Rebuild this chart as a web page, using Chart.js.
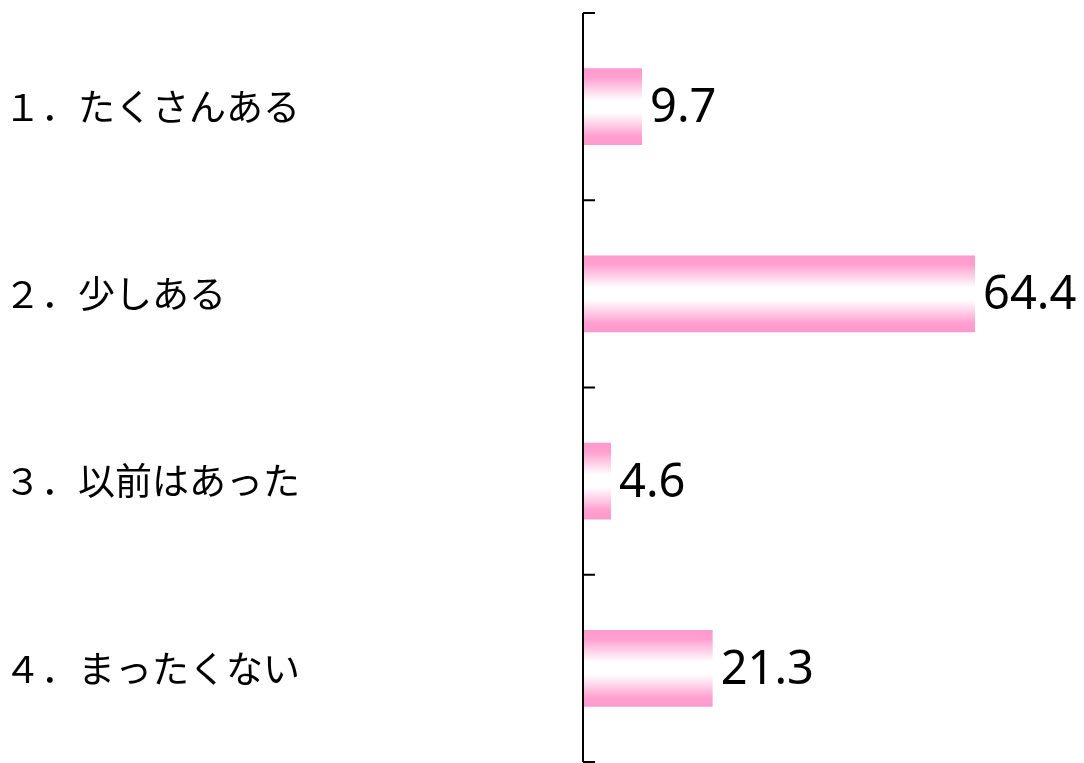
<!DOCTYPE html>
<html><head><meta charset="utf-8">
<script src="https://cdn.jsdelivr.net/npm/chart.js@4.4.1/dist/chart.umd.min.js"></script>
<style>html,body{margin:0;padding:0;background:#fff;overflow:hidden}#wrap{width:1084px;height:763px}</style>
</head><body><div id="wrap"><canvas id="c"></canvas></div>
<script>
const categories = ["１．たくさんある", "２．少しある", "３．以前はあった", "４．まったくない"];
const values = [9.7, 64.4, 4.6, 21.3];
const AXIS_X = 583;
const BAR_PCT = 0.41;

const gradientPlugin = {
  id: 'grad',
  beforeDatasetDraw(chart, args) {
    const ctx = chart.ctx;
    args.meta.data.forEach(el => {
      const p = el.getProps(['y', 'height'], true);
      if (!isFinite(p.y) || !isFinite(p.height)) return;
      const t = p.y - p.height / 2, b = p.y + p.height / 2;
      const g = ctx.createLinearGradient(0, t, 0, b);
      g.addColorStop(0, '#ff99cc');
      g.addColorStop(0.12, '#ffa0d0');
      g.addColorStop(0.42, '#ffffff');
      g.addColorStop(0.58, '#ffffff');
      g.addColorStop(0.88, '#ffa0d0');
      g.addColorStop(1, '#ff99cc');
      const o = {};
      for (const k in el.options) o[k] = el.options[k];
      o.backgroundColor = g;
      el.options = o;
    });
  }
};

const decoPlugin = {
  id: 'deco',
  afterDatasetsDraw(chart) {
    const ctx = chart.ctx;
    const area = chart.chartArea;
    ctx.save();
    ctx.strokeStyle = '#000';
    ctx.lineWidth = 2;
    ctx.beginPath();
    ctx.moveTo(area.left, area.top);
    ctx.lineTo(area.left, area.bottom);
    const n = categories.length;
    for (let i = 0; i <= n; i++) {
      const py = area.top + (area.bottom - area.top) * i / n;
      ctx.moveTo(area.left, py);
      ctx.lineTo(area.left + 12, py);
    }
    ctx.stroke();
    ctx.fillStyle = '#000';
    ctx.font = '47px "Noto Sans", "DejaVu Sans", sans-serif';
    ctx.textAlign = 'left';
    ctx.textBaseline = 'middle';
    const meta = chart.getDatasetMeta(0);
    meta.data.forEach((el, i) => {
      const p = el.getProps(['x', 'y'], true);
      ctx.fillText(values[i].toFixed(1), p.x + 8, p.y + 2);
    });
    ctx.restore();
  }
};

new Chart(document.getElementById('c'), {
  type: 'bar',
  data: {
    labels: categories,
    datasets: [{ data: values, backgroundColor: '#ff99cc', borderWidth: 0, barPercentage: BAR_PCT, categoryPercentage: 1 }]
  },
  options: {
    indexAxis: 'y',
    responsive: true,
    maintainAspectRatio: false,
    animation: false,
    layout: { padding: { top: 13, right: 14, bottom: 0, left: 4 } },
    plugins: { legend: { display: false }, tooltip: { enabled: false } },
    scales: {
      x: { display: false, min: 0, max: 80 },
      y: {
        border: { display: false },
        grid: { display: false, drawTicks: false },
        ticks: {
          crossAlign: 'far',
          color: '#000',
          padding: 0,
          font: { size: 37, lineHeight: 0.05, family: '"Noto Sans CJK JP", sans-serif' }
        },
        afterFit(scale) { scale.width = AXIS_X - 4; }
      }
    }
  },
  plugins: [gradientPlugin, decoPlugin]
});
</script></body></html>
